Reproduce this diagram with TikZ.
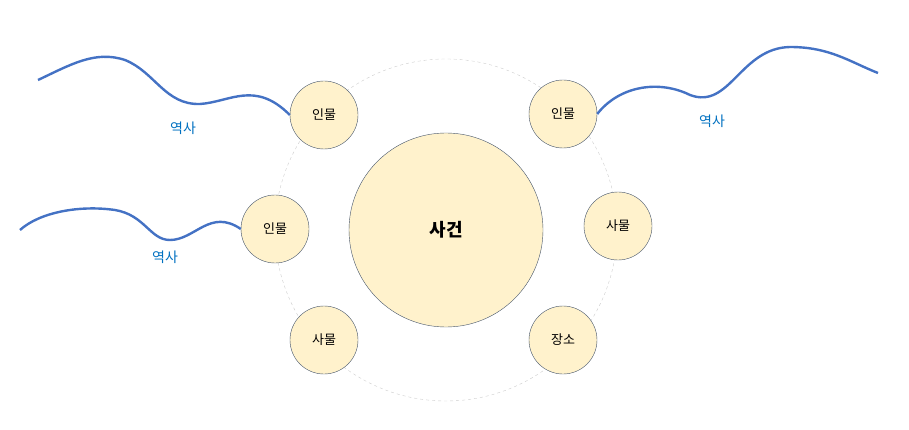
\documentclass[tikz,border=0pt]{standalone}
\usepackage{fontspec}
\setmainfont{Noto Sans CJK KR}
\definecolor{fillc}{HTML}{FFF2CC}
\definecolor{edgec}{HTML}{44546A}
\definecolor{linec}{HTML}{4472C4}
\definecolor{labc}{HTML}{0070C0}
\begin{document}
\begin{tikzpicture}[x=1pt,y=-1pt,
  small/.style={circle,draw=edgec,fill=fillc,minimum size=68pt,inner sep=0pt,font=\fontsize{13}{15}\selectfont},
  wave/.style={draw=linec,line width=2.4pt},
  lab/.style={text=labc,font=\fontsize{14}{16}\selectfont}]
\useasboundingbox (0,0) rectangle (909,430);
\node[circle,draw=gray!40,dashed,minimum size=342pt] (ring) at (446,230) {};
\node[circle,draw=edgec,fill=fillc,minimum size=194pt,font=\fontsize{18}{20}\selectfont\bfseries] (main) at (446,230) {사건};
\node[small] (a) at (324,115) {인물};
\node[small] (b) at (563,114) {인물};
\node[small] (c) at (275,229) {인물};
\node[small] (d) at (618,226) {사물};
\node[small] (e) at (324,340) {사물};
\node[small] (f) at (563,340) {장소};
\coordinate (w1) at (38,80);
\coordinate (w2) at (593,100);
\coordinate (w3) at (20,230);
\draw[wave] (w1) .. controls (70,65) and (95,50) .. (125,60) .. controls (155,72) and (165,105) .. (200,104) .. controls (230,102) and (255,80) .. (a.west);
\draw[wave] (b.east) .. controls (620,85) and (660,80) .. (690,95) .. controls (730,110) and (740,48) .. (790,47) .. controls (830,47) and (850,62) .. (878,73);
\draw[wave] (w3) .. controls (40,212) and (80,205) .. (115,210) .. controls (145,215) and (150,240) .. (170,240) .. controls (195,240) and (210,208) .. (c.west);
\node[lab] (l1) at (183,128) {역사};
\node[lab] (l2) at (712,121) {역사};
\node[lab] (l3) at (165,257) {역사};
\end{tikzpicture}
\end{document}
